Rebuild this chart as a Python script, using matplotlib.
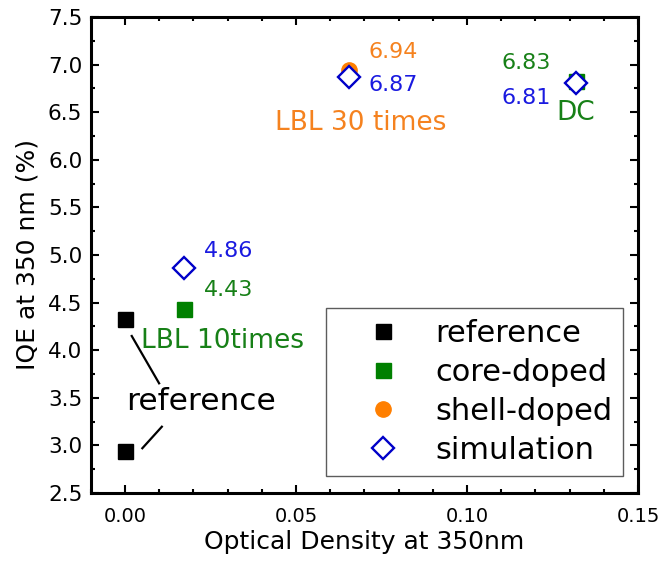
import matplotlib
matplotlib.use('Agg')
import matplotlib.pyplot as plt
from matplotlib.ticker import MultipleLocator

plt.rcParams['font.family'] = ['DejaVu Sans']

# data
ref_od = [0.0, 0.0]
ref_iqe = [4.33, 2.94]
core_od = [0.0173, 0.132]
core_iqe = [4.43, 6.83]
shell_od = [0.0655]
shell_iqe = [6.94]
sim_od = [0.0173, 0.0655, 0.132]
sim_iqe = [4.86, 6.87, 6.81]

green = '#178017'
orange = '#F5821F'
blue = '#1A1AE0'

fig = plt.figure(figsize=(6.6, 5.62), dpi=100)
ax = fig.add_axes([0.1374, 0.1228, 0.8293, 0.847])

ax.plot(ref_od, ref_iqe, 's', color='black', ms=10.8, label='reference')
ax.plot(core_od, core_iqe, 's', color='#008000', ms=10.8, label='core-doped')
ax.plot(shell_od, shell_iqe, 'o', color='#FF7F00', ms=11, label='shell-doped')
ax.plot(sim_od, sim_iqe, 'D', mfc='white', mec='#0000C8', mew=1.7, ms=11.5, label='simulation')

# value labels
ax.text(0.0230, 5.045, '4.86', color=blue, fontsize=16, va='center')
ax.text(0.0230, 4.632, '4.43', color=green, fontsize=16, va='center')
ax.text(0.0048, 4.10, 'LBL 10times', color=green, fontsize=19, va='center')
ax.text(0.0712, 7.132, '6.94', color=orange, fontsize=16, va='center')
ax.text(0.0712, 6.786, '6.87', color=blue, fontsize=16, va='center')
ax.text(0.0939, 6.387, 'LBL 30 times', color=orange, fontsize=19, va='center', ha='right')
ax.text(0.1101, 7.017, '6.83', color=green, fontsize=16, va='center')
ax.text(0.1101, 6.649, '6.81', color=blue, fontsize=16, va='center')
ax.text(0.1262, 6.49, 'DC', color=green, fontsize=19, va='center')
ax.text(0.0004, 3.459, 'reference', color='black', fontsize=22.5, va='center')

# pointer lines to the reference points
ax.plot([0.0020, 0.0100], [4.149, 3.652], color='black', lw=1.6)
ax.plot([0.0108, 0.0051], [3.196, 2.970], color='black', lw=1.6)

ax.set_xlim(-0.01, 0.15)
ax.set_ylim(2.5, 7.5)
ax.xaxis.set_major_locator(MultipleLocator(0.05))
ax.xaxis.set_minor_locator(MultipleLocator(0.01))
ax.yaxis.set_major_locator(MultipleLocator(0.5))
ax.yaxis.set_minor_locator(MultipleLocator(0.25))
ax.xaxis.set_major_formatter(plt.FormatStrFormatter('%.2f'))
ax.yaxis.set_major_formatter(plt.FormatStrFormatter('%.1f'))

ax.tick_params(which='both', direction='in', top=True, right=True, width=1.5)
ax.tick_params(which='major', length=5.8)
ax.tick_params(which='minor', length=3)
ax.tick_params(axis='x', which='major', pad=10, labelsize=14)
ax.tick_params(axis='y', which='major', pad=6, labelsize=15.5)
for s in ax.spines.values():
    s.set_linewidth(2.2)

ax.set_xlabel('Optical Density at 350nm', fontsize=18, labelpad=3)
ax.set_ylabel('IQE at 350 nm (%)', fontsize=18, labelpad=6)

leg = ax.legend(loc='lower right', bbox_to_anchor=(0.972, 0.036), borderaxespad=0,
                fontsize=22, frameon=True, fancybox=False, handlelength=3.0,
                handletextpad=0.2, labelspacing=0.33, borderpad=0.35, numpoints=1)
leg.get_frame().set_edgecolor('#333333')
leg.get_frame().set_linewidth(1.0)

plt.savefig('out.png', dpi=100)
plt.close()
